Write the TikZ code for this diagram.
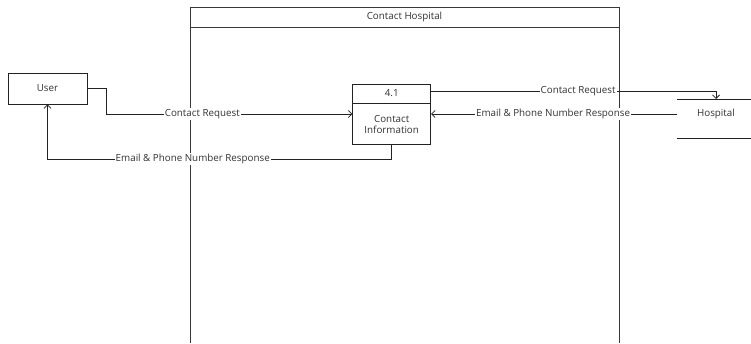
\documentclass[tikz,border=0pt]{standalone}
\usepackage{fontspec}
\setmainfont{Open Sans}
\usetikzlibrary{arrows.meta,calc}
\definecolor{ink}{HTML}{222222}
\definecolor{txt}{HTML}{333333}
\tikzset{
  flow/.style={draw=ink, line width=0.75pt, -{Straight Barb[length=3.5pt,width=7pt]}},
  plain/.style={draw=ink, line width=0.75pt},
  frame/.style={draw=ink!90, line width=1pt},
  boxed/.style={draw=ink, line width=0.75pt, fill=white, inner sep=0pt},
  lbl/.style={fill=white, inner sep=1pt, text=txt, font=\fontsize{9.8}{11}\selectfont},
  txtnode/.style={text=txt, font=\fontsize{9.8}{11}\selectfont, align=center, inner sep=0pt}
}
\begin{document}
\begin{tikzpicture}[x=1pt, y=-1pt]
\useasboundingbox (0,0) rectangle (751,343);
\fill[white] (0,0) rectangle (751,343);

% process frame, open at the bottom
\draw[frame] (190,343) -- (190,7) -- (619,7) -- (619,343);
\draw[frame] (190,27) -- (619,27);
\node[txtnode] (ftitle) at (404.5,17) {Contact Hospital};

% external entity
\node[boxed, minimum width=79pt, minimum height=31pt] (user) at (47.5,88.5) {};
\node[txtnode] (usertxt) at (user.center) {User};

% process 4.1
\node[boxed, minimum width=78pt, minimum height=60pt] (proc) at (391.7,114) {};
\draw[plain] (352.7,103) -- (430.7,103);
\node[txtnode] (pid) at (391.7,93.5) {4.1};
\node[txtnode] (pname) at (391.7,124) {Contact\\Information};

% data store
\coordinate (hstop) at (716,99);
\coordinate (hsleft) at (677,114);
\draw[plain] (677,99) -- (751,99);
\draw[plain] (677,138) -- (751,138);
\node[txtnode] (hosp) at (716,114) {Hospital};

% flows
\draw[flow] (user.east) -- ++(19,0) |- node[lbl, pos=0.695] {Contact Request} (proc.west);
\draw[flow] (proc.south) |- node[lbl, pos=0.789] {Email \& Phone Number Response} ($(user.south)+(0,55)$) -- (user.south);
\draw[flow] (proc.east |- 0,91) -| node[lbl, pos=0.258] {Contact Request} (hstop);
\draw[flow] (hsleft) -- node[lbl, pos=0.504] {Email \& Phone Number Response} (proc.east);
\end{tikzpicture}
\end{document}
